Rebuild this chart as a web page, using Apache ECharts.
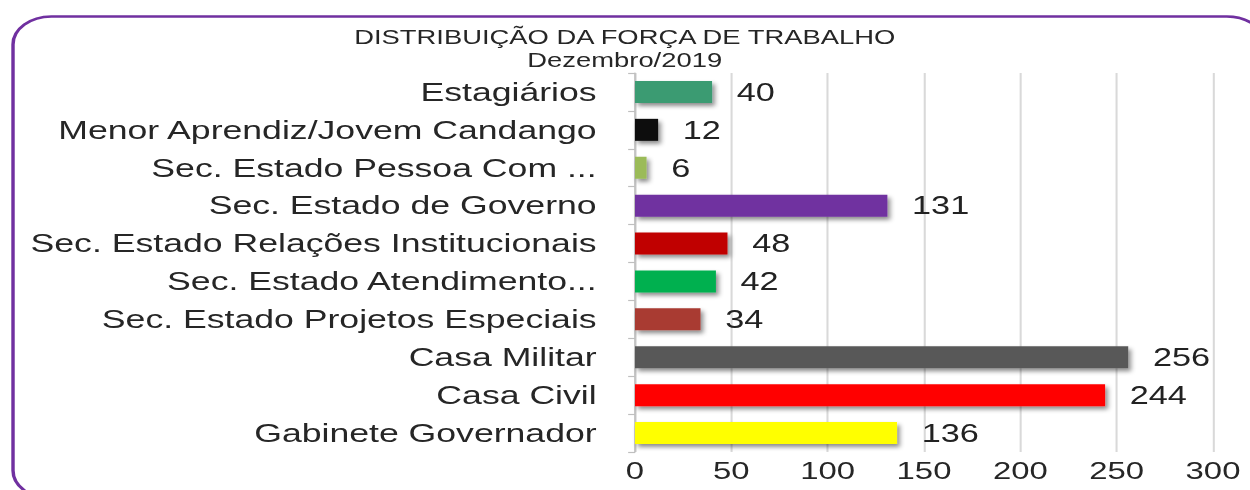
<!DOCTYPE html>
<html>
<head>
<meta charset="utf-8">
<script src="https://cdn.jsdelivr.net/npm/echarts@6/dist/echarts.min.js"></script>
<style>
  html, body { margin: 0; padding: 0; background: #fff; overflow: hidden; width: 1250px; height: 490px; }
  #chart { width: 913px; height: 490px; transform: scaleX(1.37); transform-origin: 0 0; }
</style>
</head>
<body>
<div id="chart"></div>
<script>
const titleText = 'DISTRIBUIÇÃO DA FORÇA DE TRABALHO';
const subtitleText = 'Dezembro/2019';
const categories = [
  'Estagiários',
  'Menor Aprendiz/Jovem Candango',
  'Sec. Estado Pessoa Com ...',
  'Sec. Estado de Governo',
  'Sec. Estado Relações Institucionais',
  'Sec. Estado Atendimento...',
  'Sec. Estado Projetos Especiais',
  'Casa Militar',
  'Casa Civil',
  'Gabinete Governador'
];
const values = [40, 12, 6, 131, 48, 42, 34, 256, 244, 136];
const barColors = ['#3B9B72', '#111111', '#9BBB59', '#7030A0', '#C00000', '#00B050', '#A93A32', '#595959', '#FF0000', '#FFFF00'];
const xMin = 0, xMax = 300, xStep = 50;

const FONT = '"Liberation Sans", Arial, sans-serif';
const chart = echarts.init(document.getElementById('chart'), null, { renderer: 'svg' });

chart.setOption({
  backgroundColor: '#ffffff',
  animation: false,
  title: {
    text: titleText,
    subtext: subtitleText,
    left: 451,
    textAlign: 'center',
    top: 21,
    itemGap: 1,
    textStyle: { fontFamily: FONT, fontSize: 20, lineHeight: 22, fontWeight: 'normal', color: '#262626' },
    subtextStyle: { fontFamily: FONT, fontSize: 20, lineHeight: 22, color: '#262626' }
  },
  graphic: [{
    type: 'rect',
    left: 7, top: 14,
    shape: { width: 914, height: 482, r: 28 },
    style: { fill: 'none', stroke: '#7030A0', lineWidth: 2.5 },
    z: 100
  }],
  grid: { left: 463.5, right: 27.6, top: 73, bottom: 38, containLabel: false },
  xAxis: {
    type: 'value',
    min: xMin, max: xMax, interval: xStep,
    axisLine: { show: false },
    axisTick: { show: false },
    splitLine: { show: true, lineStyle: { color: '#d9d9d9', width: 1.5 } },
    axisLabel: { fontFamily: FONT, fontSize: 24, color: '#262626', margin: 7 }
  },
  yAxis: {
    type: 'category',
    inverse: true,
    data: categories,
    axisLine: { show: true, lineStyle: { color: '#bfbfbf', width: 1.2 } },
    axisTick: { show: true, length: 5, lineStyle: { color: '#bfbfbf', width: 1.2 } },
    axisLabel: { fontFamily: FONT, fontSize: 26, color: '#262626', margin: 28 }
  },
  series: [{
    type: 'bar',
    barWidth: 22,
    data: values.map((v, i) => ({ value: v, itemStyle: { color: barColors[i] } })),
    itemStyle: {
      shadowColor: 'rgba(0,0,0,0.45)',
      shadowBlur: 4,
      shadowOffsetX: 2,
      shadowOffsetY: 3
    },
    label: {
      show: true,
      position: 'right',
      distance: 18,
      fontFamily: FONT,
      fontSize: 25,
      color: '#222222'
    }
  }]
});
</script>
</body>
</html>
